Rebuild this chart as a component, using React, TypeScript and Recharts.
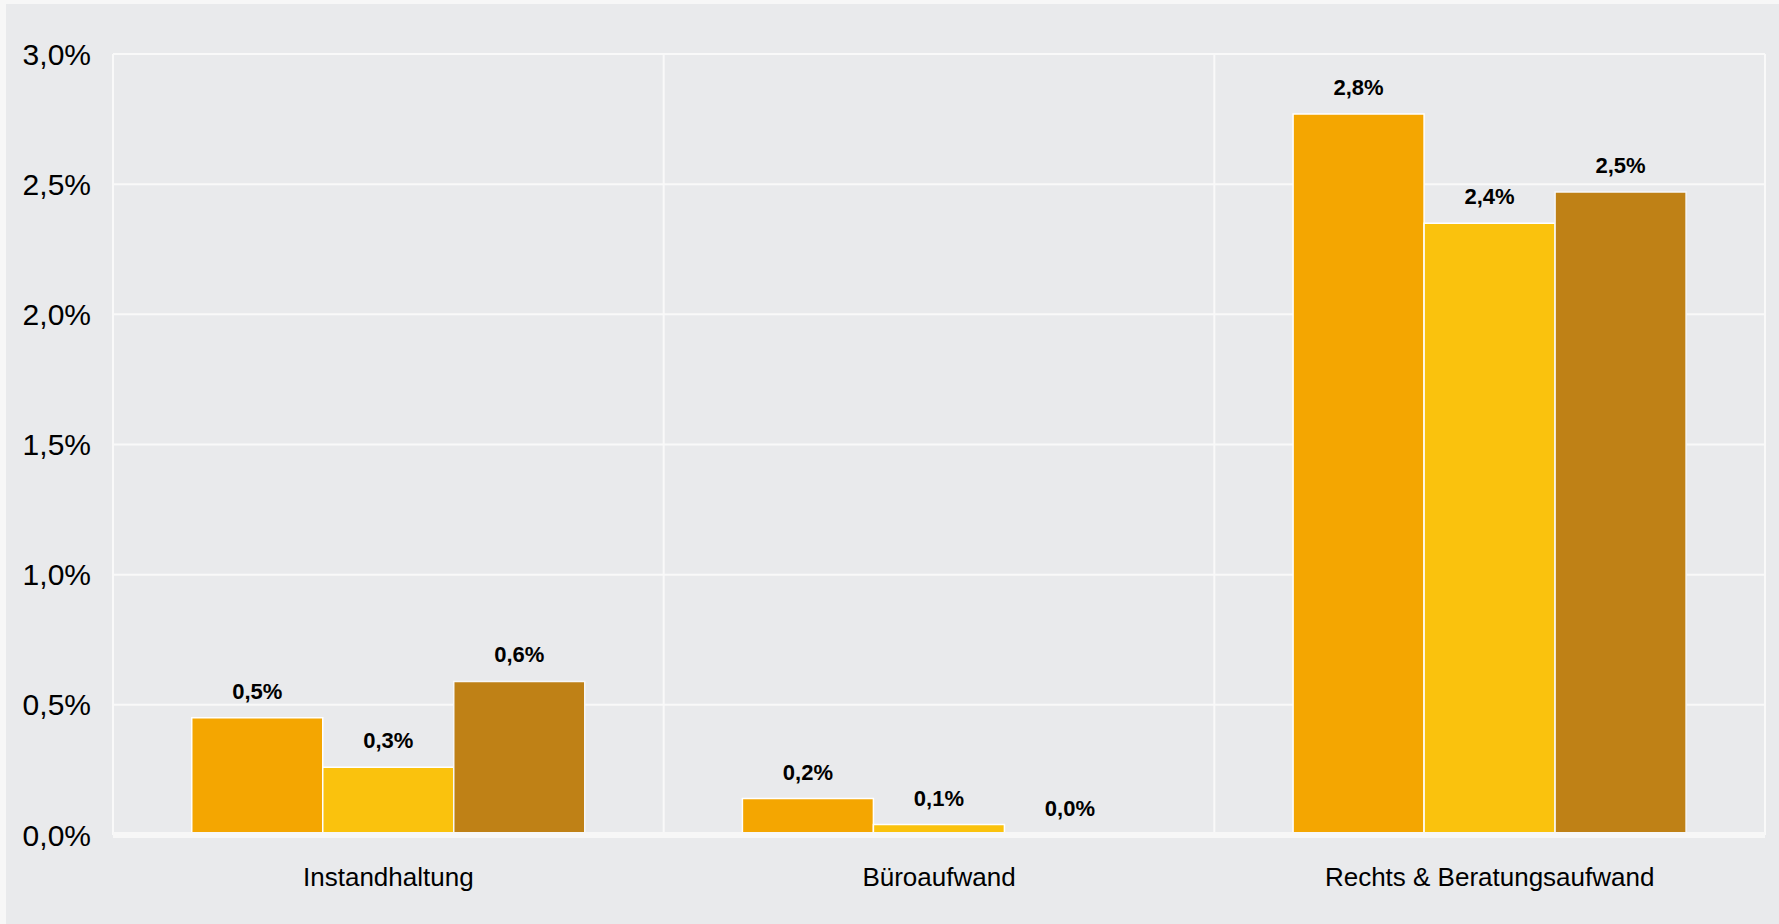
import { BarChart, Bar, XAxis, YAxis, CartesianGrid, LabelList } from "recharts";

const categories = ["Instandhaltung", "Büroaufwand", "Rechts & Beratungsaufwand"];

// bar heights, labels as printed above the bars
const values1 = [0.45, 0.14, 2.77];
const labels1 = ["0,5%", "0,2%", "2,8%"];
const values2 = [0.26, 0.04, 2.35];
const labels2 = ["0,3%", "0,1%", "2,4%"];
const values3 = [0.59, 0, 2.47];
const labels3 = ["0,6%", "0,0%", "2,5%"];

const yTicks = [0, 0.5, 1, 1.5, 2, 2.5, 3];

const data = categories.map((name, i) => ({
  name,
  v1: values1[i],
  l1: labels1[i],
  v2: values2[i],
  l2: labels2[i],
  v3: values3[i],
  l3: labels3[i],
}));

const fmtPct = (v: number) => `${v.toFixed(1).replace(".", ",")}%`;

const FONT = "'Liberation Sans', Arial, sans-serif";

const TopLabel = (props: any) => {
  const { x, y, width, value } = props;
  if (value == null) return null;
  return (
    <text
      x={Number(x) + Number(width) / 2}
      y={Number(y) - 19}
      textAnchor="middle"
      fontSize={22}
      fontWeight={700}
      fill="#000"
      fontFamily={FONT}
    >
      {value}
    </text>
  );
};

// zero bars are dropped by recharts, so give them a hairline height to keep the label
const keepZero = (v: any) => (v === 0 ? 0.5 : 0);

export default function App() {
  return (
    <div
      style={{
        position: "fixed",
        inset: 0,
        background: "#f7f7f7",
        paddingLeft: 6,
        paddingTop: 4,
        fontFamily: FONT,
      }}
    >
      <div style={{ width: 1773, height: 920, background: "#e9eaec" }}>
        <BarChart
          width={1773}
          height={920}
          data={data}
          margin={{ top: 50, right: 14, left: 0, bottom: 0 }}
          barCategoryGap="14.3%"
          barGap={0}
        >
          <CartesianGrid
            stroke="#f9f9f9"
            strokeWidth={2}
            verticalCoordinatesGenerator={({ offset }: any) =>
              Array.from(
                { length: categories.length + 1 },
                (_, i) => offset.left + (i * offset.width) / categories.length
              )
            }
          />
          <XAxis
            dataKey="name"
            height={89}
            tickLine={false}
            tickMargin={27}
            axisLine={{ stroke: "#f7f7f7", strokeWidth: 6 }}
            tick={{ fontSize: 26, fill: "#000", fontFamily: FONT }}
            interval={0}
          />
          <YAxis
            width={107}
            domain={[0, 3]}
            ticks={yTicks}
            tickFormatter={fmtPct}
            axisLine={false}
            tickLine={false}
            tickMargin={16}
            tick={{ fontSize: 30, fill: "#000", fontFamily: FONT }}
          />
          <Bar dataKey="v1" fill="#f4a601" stroke="#ffffff" strokeWidth={1.5} minPointSize={keepZero} isAnimationActive={false}>
            <LabelList dataKey="l1" content={TopLabel} />
          </Bar>
          <Bar dataKey="v2" fill="#fac20d" stroke="#ffffff" strokeWidth={1.5} minPointSize={keepZero} isAnimationActive={false}>
            <LabelList dataKey="l2" content={TopLabel} />
          </Bar>
          <Bar dataKey="v3" fill="#bf8116" stroke="#f7f7f7" strokeWidth={1.5} minPointSize={keepZero} isAnimationActive={false}>
            <LabelList dataKey="l3" content={TopLabel} />
          </Bar>
        </BarChart>
      </div>
    </div>
  );
}
